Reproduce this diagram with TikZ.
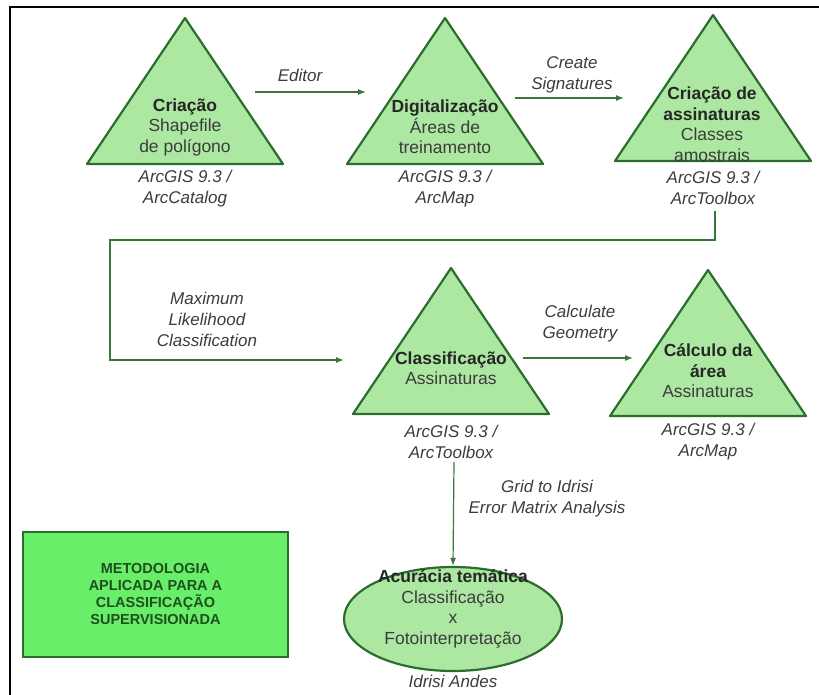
\documentclass[tikz,border=0pt]{standalone}
\usepackage{fontspec}
\setmainfont{Liberation Sans}
\usetikzlibrary{arrows.meta}
\usetikzlibrary{shapes.geometric}

% Colours taken from the flow chart
\definecolor{trifill}{RGB}{172,232,162}
\definecolor{triline}{RGB}{44,108,44}
\definecolor{boxfill}{RGB}{104,238,104}
\definecolor{flowline}{RGB}{58,118,58}
\definecolor{labeltext}{RGB}{60,60,60}
\definecolor{boxtext}{RGB}{30,80,30}

\begin{document}
\begin{tikzpicture}[
    x=1pt, y=-1pt,
    every node/.style={font=\fontsize{17.5}{20.5}\selectfont, text=labeltext, align=center, inner sep=0pt},
    steptri/.style={draw=triline, fill=trifill, line width=2.2pt, line join=round},
    tooltext/.style={font=\fontsize{17}{21}\selectfont\itshape},
    flowarrow/.style={draw=flowline, line width=1.2pt, -{Latex[length=8pt,width=6pt]}}
  ]

% Canvas of the picture and the black frame (top and left sides only)
\useasboundingbox (0,0) rectangle (819,695);
\draw[line width=2.6pt] (10,695) -- (10,7) -- (819,7);

% Half width and height of every triangle
\pgfmathsetmacro{\halfbase}{98}
\pgfmathsetmacro{\triheight}{146}

% Apexes of the five triangles
\coordinate (a1) at (185,18);
\coordinate (a2) at (445,18);
\coordinate (a3) at (713,15);
\coordinate (a4) at (451,268);
\coordinate (a5) at (708,270);

% Draw the triangles
\draw[steptri] (a1) -- ++(-\halfbase,\triheight) -- ++(2*\halfbase,0) -- cycle;
\draw[steptri] (a2) -- ++(-\halfbase,\triheight) -- ++(2*\halfbase,0) -- cycle;
\draw[steptri] (a3) -- ++(-\halfbase,\triheight) -- ++(2*\halfbase,0) -- cycle;
\draw[steptri] (a4) -- ++(-\halfbase,\triheight) -- ++(2*\halfbase,0) -- cycle;
\draw[steptri] (a5) -- ++(-\halfbase,\triheight) -- ++(2*\halfbase,0) -- cycle;

% Texts inside the triangles
\node (criacao) at (185,127) {\textbf{\color{black!85}Criação}\\Shapefile\\de polígono};
\node (digital) at (445,127) {\textbf{\color{black!85}Digitalização}\\Áreas de\\treinamento};
\node (assin) at (712,124) {\textbf{\color{black!85}Criação de}\\\textbf{\color{black!85}assinaturas}\\Classes\\amostrais};
\node (classif) at (451,368) {\textbf{\color{black!85}Classificação}\\Assinaturas};
\node (calculo) at (708,371) {\textbf{\color{black!85}Cálculo da}\\\textbf{\color{black!85}área}\\Assinaturas};

% Software below each step
\node[tooltext] (sw1) at (185,189) {ArcGIS 9.3 /\\ArcCatalog};
\node[tooltext] (sw2) at (445,189) {ArcGIS 9.3 /\\ArcMap};
\node[tooltext] (sw3) at (713,188) {ArcGIS 9.3 /\\ArcToolbox};
\node[tooltext] (sw4) at (451,442) {ArcGIS 9.3 /\\ArcToolbox};
\node[tooltext] (sw5) at (708,442) {ArcGIS 9.3 /\\ArcMap};

% Accuracy step (ellipse) and its software
\node[ellipse, draw=triline, fill=trifill, line width=2.2pt, minimum width=218pt, minimum height=104pt] (acur) at (453,619) {};
\node (acurtext) at (453,609) {\textbf{\color{black!85}Acurácia temática}\\Classificação\\x\\Fotointerpretação};
\node[tooltext] (sw6) at (453,681) {Idrisi Andes};

% Title box
\node[draw=triline, fill=boxfill, line width=1.8pt, minimum width=265pt, minimum height=125pt,
      font=\fontsize{14.5}{17}\selectfont\bfseries, text=boxtext] (titulo) at (155.5,594.5)
  {METODOLOGIA\\APLICADA PARA A\\CLASSIFICAÇÃO\\SUPERVISIONADA};

% Free ends of the connectors
\coordinate (e1s) at (255,92);
\coordinate (e1e) at (366,92);
\coordinate (e2s) at (515,98);
\coordinate (e2e) at (624,98);
\coordinate (e3s) at (715,211);
\coordinate (e3e) at (344,360);
\coordinate (e4s) at (523,358);
\coordinate (e4e) at (633,358);
\coordinate (e5s) at (454,462);

% Connectors with their tool names
\draw[flowarrow] (e1s) -- (e1e);
\node[tooltext] (lbl1) at (300,75) {Editor};
\draw[flowarrow] (e2s) -- (e2e);
\node[tooltext] (lbl2) at (572,75) {Create\\Signatures};
\draw[flowarrow] (e3s) -- (715,240) -- (110,240) -- (110,360) -- (e3e);
\node[tooltext] (lbl3) at (207,319) {Maximum\\Likelihood\\Classification};
\draw[flowarrow] (e4s) -- (e4e);
\node[tooltext] (lbl4) at (580,324) {Calculate\\Geometry};
\draw[flowarrow] (e5s) -- (acur.north);
\node[tooltext] (lbl5) at (547,499) {Grid to Idrisi\\Error Matrix Analysis};

\end{tikzpicture}
\end{document}
